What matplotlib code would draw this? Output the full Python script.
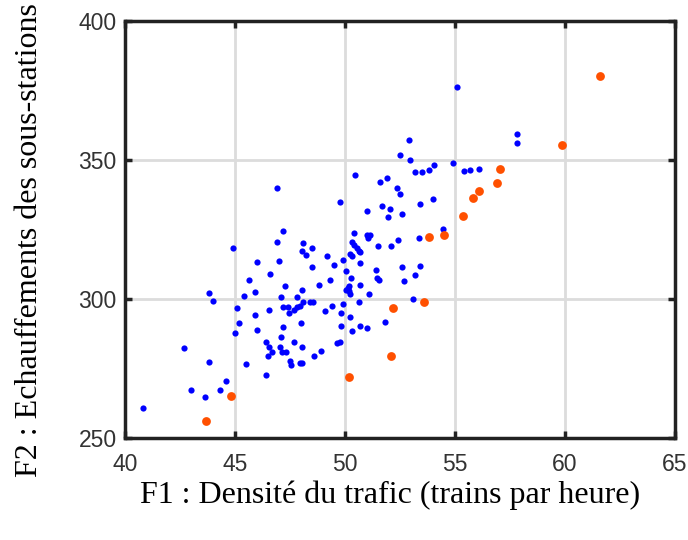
import matplotlib
matplotlib.use("Agg")
import matplotlib.pyplot as plt

# Blue points (F1, F2)
blue_x = [43.8, 44.0, 45.4, 45.9, 47.1, 45.1, 45.9, 46.55, 47.2, 45.2, 45.0, 46.0, 47.2, 46.4, 47.1,
          46.55, 46.7, 46.5, 47.05, 47.15, 42.7, 43.8, 45.5, 46.4, 44.6, 43.0, 44.3, 43.65, 40.8, 47.3,
          46.9, 47.2, 46.9, 44.9, 46.0, 47.0, 46.6, 45.65, 47.25,
          49.76, 48.1, 48.5, 48.06, 48.24, 49.2, 49.9, 49.5, 48.5, 49.3, 48.8, 48.05, 47.8, 48.4, 48.56,
          47.4, 47.47, 47.67, 47.8, 47.95, 48.08, 49.1, 49.4, 49.9, 49.8, 48.0, 49.8, 47.7, 48.06, 48.9,
          49.65, 49.77, 47.5, 47.53, 47.95, 48.03, 48.6,
          52.38, 52.5, 51.7, 52.05, 51.0, 53.4, 54.0, 52.6, 51.95, 50.4, 51.0, 51.15, 51.06, 51.5, 52.1,
          52.4, 53.36, 50.33, 50.42, 50.55, 50.65, 50.7, 50.24, 50.32, 50.68, 50.03, 50.27, 50.2, 50.12,
          50.05, 50.18, 50.23, 50.7, 51.1, 51.4, 51.47, 51.53, 52.6, 53.4, 53.17, 52.7, 53.07, 50.65,
          50.24, 50.33, 50.68, 51.0, 51.8,
          52.9, 52.5, 52.95, 53.2, 53.5, 53.8, 54.06, 50.45, 51.6, 51.9,
          55.1, 57.8, 57.8, 54.9, 55.4, 55.7, 56.1, 54.45]
blue_y = [302.0, 299.3, 301.2, 302.5, 300.6, 296.8, 294.4, 296.2, 297.0, 291.2, 287.9, 288.8, 290.0, 284.6, 286.5,
          282.7, 280.8, 279.5, 282.7, 281.0, 282.4, 277.3, 276.5, 272.5, 270.5, 267.1, 267.3, 264.6, 260.9, 280.8,
          339.8, 324.6, 320.5, 318.5, 313.4, 313.5, 308.9, 306.7, 304.6,
          334.9, 320.0, 318.3, 317.1, 316.0, 315.6, 313.9, 312.2, 311.4, 306.7, 305.0, 303.3, 300.6, 299.1, 299.1,
          297.0, 295.0, 296.0, 297.0, 297.5, 298.8, 295.8, 297.5, 298.1, 295.0, 291.5, 290.4, 284.5, 282.9, 281.4,
          284.0, 284.4, 277.8, 276.1, 277.0, 277.1, 279.6,
          339.8, 337.6, 333.5, 332.4, 331.8, 334.2, 336.0, 330.4, 329.5, 323.6, 323.0, 323.2, 322.1, 319.1, 318.9,
          321.4, 321.8, 320.5, 319.3, 318.3, 317.4, 316.8, 316.2, 315.5, 312.8, 310.2, 307.6, 304.7, 303.8,
          303.3, 302.9, 301.9, 304.9, 301.8, 310.5, 307.4, 306.7, 311.6, 312.0, 308.5, 306.6, 299.9, 299.0,
          293.7, 288.5, 290.4, 289.4, 291.6,
          357.2, 351.8, 350.0, 345.7, 345.7, 346.4, 348.2, 344.5, 342.2, 343.7,
          376.4, 359.4, 356.2, 349.0, 346.2, 346.3, 346.9, 325.2]

# Orange points
orange_x = [43.7, 44.8, 50.2, 52.1, 52.2, 53.6, 53.8, 54.5, 55.35, 55.8, 56.1, 56.9, 57.05, 59.85, 61.6]
orange_y = [256.2, 265.0, 272.0, 279.4, 296.8, 299.1, 322.2, 323.1, 330.0, 336.5, 339.0, 341.7, 346.8, 355.3, 380.3]

xticks = [40, 45, 50, 55, 60, 65]
yticks = [250, 300, 350, 400]

fig = plt.figure(figsize=(6.88, 5.40), dpi=100)
ax = fig.add_axes([125/688, 1-438/540, 550/688, 417/540])

ax.scatter(blue_x, blue_y, s=20, color='#0000ff', linewidths=0, zorder=3)
ax.scatter(orange_x, orange_y, s=40, color='#ff5000', linewidths=0, zorder=3)

ax.set_xlim(40, 65)
ax.set_ylim(250, 400)
ax.set_xticks(xticks)
ax.set_yticks(yticks)
ax.grid(True, color='#dcdcdc', linewidth=2.0, zorder=0)
ax.set_axisbelow(True)
for sp in ax.spines.values():
    sp.set_linewidth(2.5)
    sp.set_color('#222222')
ax.tick_params(direction='in', length=5, width=2.5, top=True, right=True,
               labelsize=16.5, colors='#222222', labelcolor='#333333')
ax.tick_params(axis='x', pad=11)
ax.tick_params(axis='y', pad=6)
for lab in ax.get_xticklabels() + ax.get_yticklabels():
    lab.set_family('Liberation Sans')

fig.text(390/688, 1-495/540, 'F1 : Densité du trafic (trains par heure)',
         family='Liberation Serif', fontsize=23, ha='center', va='center')
fig.text(30/688, 1-240/540, 'F2 : Echauffements des sous-stations',
         family='Liberation Serif', fontsize=23, ha='center', va='center', rotation=90)

fig.savefig('out.png', dpi=100)
